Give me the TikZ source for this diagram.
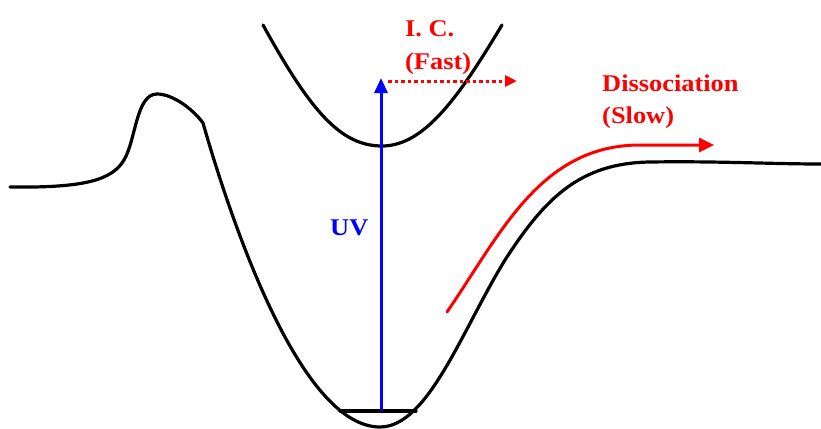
\documentclass[tikz,border=0pt]{standalone}
\usepackage{fontspec}
\setmainfont{Liberation Serif}
\newfontfamily\lblfont[FakeStretch=1.1]{Liberation Serif}
\usetikzlibrary{arrows.meta}
\definecolor{uvblue}{RGB}{0,0,255}
\definecolor{icred}{RGB}{255,0,0}
\tikzset{
  pes/.style={line width=3.2pt, black, line cap=round, line join=round},
  lbl/.style={inner sep=0pt, anchor=base west, font=\lblfont\bfseries\fontsize{24}{28}\selectfont},
  redlbl/.style={lbl, text=icred},
  bluelbl/.style={lbl, text=uvblue},
}
\begin{document}
\begin{tikzpicture}[x=1pt,y=-1pt]
\useasboundingbox (0,0) rectangle (821,428);
% ground state potential
\draw[pes] (10,187) .. controls (85,188) and (112,180) .. (124,160)
  .. controls (136,140) and (136,94) .. (157,94)
  .. controls (172,94) and (192,108) .. (203,123)
  .. controls (238,245) and (305,427) .. (380,427)
  .. controls (428,427) and (462,330) .. (505,260)
  .. controls (545,198) and (580,163) .. (650,162)
  .. controls (720,161) and (770,164) .. (821,164);
% vibrational level
\coordinate (vl) at (340,411);
\coordinate (vr) at (416,411);
\draw[pes] (vl) -- (vr);
% excited state
\draw[pes] (263,25) .. controls (310,110) and (340,146) .. (382,146)
  .. controls (425,146) and (460,95) .. (502,25);
% UV arrow
\coordinate (uvs) at (381,411);
\coordinate (uvt) at (381,78);
\draw[uvblue, line width=3pt, -{Triangle[length=15pt,width=13pt]}] (uvs) -- (uvt);
% IC arrow
\coordinate (ics) at (388,81);
\coordinate (ict) at (517,81);
\draw[icred, line width=3pt, dash pattern=on 3.5pt off 3pt, -{Triangle[length=12pt,width=11pt]}] (ics) -- (ict);
% dissociation arrow
\coordinate (ds) at (447,312);
\coordinate (dt) at (714,145);
\draw[icred, line width=3pt, line cap=round, -{Triangle[length=15pt,width=14pt]}]
  (ds) .. controls (500,235) and (540,145) .. (640,145) -- (dt);
% labels
\node[redlbl] (ic) at (405,37) {I. C.};
\node[redlbl] (fast) at (405,69) {(Fast)};
\node[redlbl] (diss) at (602,91) {Dissociation};
\node[redlbl] (slow) at (602,123) {(Slow)};
\node[bluelbl] (uv) at (330,235) {UV};
\end{tikzpicture}
\end{document}
